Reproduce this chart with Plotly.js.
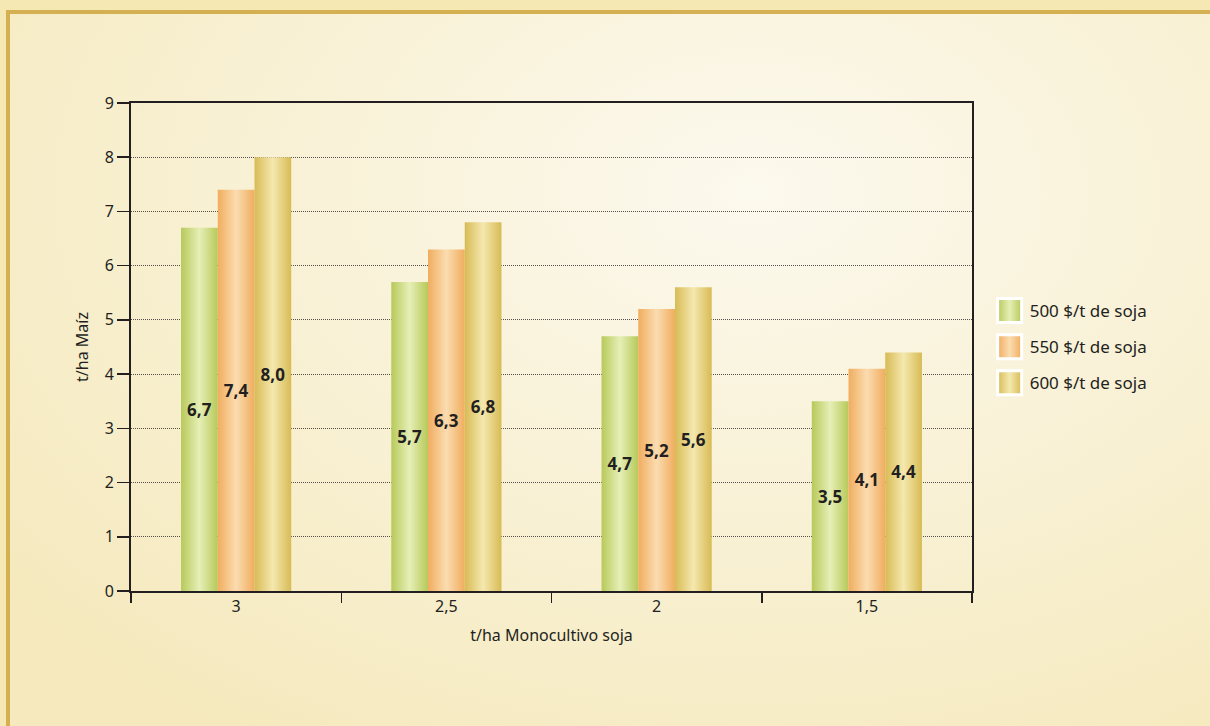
<!DOCTYPE html>
<html>
<head>
<meta charset="utf-8">
<script src="https://cdn.plot.ly/plotly-3.0.1.min.js"></script>
<style>
  html, body { margin:0; padding:0; }
  body { width:1210px; height:726px; overflow:hidden; background:#f5e8b3; position:relative; }
  #frame { position:absolute; left:6px; top:10px; right:0; bottom:0;
    border-top:4px solid #d5b052; border-left:4px solid #d5b052;
    background: radial-gradient(ellipse 80% 90% at 62% 25%, #fcf9ee 0%, #f9f2d8 45%, #f5e9bd 100%); }
  #chart { position:absolute; left:0; top:0; width:1210px; height:726px; }
</style>
</head>
<body>
<div id="frame"></div>
<div id="chart"></div>
<script>
// ---- data ----
const categories = ['3', '2,5', '2', '1,5'];
const seriesNames = ['500 $/t de soja', '550 $/t de soja', '600 $/t de soja'];
const values500 = [6.7, 5.7, 4.7, 3.5];
const values550 = [7.4, 6.3, 5.2, 4.1];
const values600 = [8.0, 6.8, 5.6, 4.4];
const yTicks = [0, 1, 2, 3, 4, 5, 6, 7, 8, 9];
const xTitle = 't/ha Monocultivo soja';
const yTitle = 't/ha Maíz';

// ---- styles ----
const gradients = [
  { id: 'g500', edge: '#b7c95a', mid: '#e6efb6' },
  { id: 'g550', edge: '#f0ad5f', mid: '#fbdcb0' },
  { id: 'g600', edge: '#d8bb55', mid: '#f4e8ae' }
];
const FONT = 'Noto Sans, DejaVu Sans, sans-serif';
const INK = '#231f20';

const seriesValues = [values500, values550, values600];
const traces = seriesValues.map((vals, i) => ({
  type: 'bar',
  name: seriesNames[i],
  legendgroup: 'g' + i,
  x: categories,
  y: vals,
  texttemplate: '%{y:.1f}',
  textposition: 'inside',
  insidetextanchor: 'middle',
  textangle: 0,
  constraintext: 'none',
  textfont: { family: FONT, size: 17, color: INK, weight: 'bold' },
  marker: { color: gradients[i].edge, line: { width: 0 } },
  hoverinfo: 'skip'
}));

const layout = {
  width: 1210, height: 726,
  margin: { l: 131, r: 238, t: 103, b: 135 },
  paper_bgcolor: 'rgba(0,0,0,0)',
  plot_bgcolor: 'rgba(0,0,0,0)',
  separators: ',.',
  barmode: 'group',
  bargap: 0.476,
  bargroupgap: 0,
  font: { family: FONT, size: 16, color: INK },
  showlegend: true,
  legend: {
    x: 1.021, xanchor: 'left', y: 0.5, yanchor: 'middle',
    bgcolor: 'rgba(0,0,0,0)', borderwidth: 0,
    tracegroupgap: 11, traceorder: 'grouped',
    font: { family: FONT, size: 17, color: INK }
  },
  xaxis: {
    type: 'category',
    tickson: 'boundaries',
    ticks: 'outside', ticklen: 10, tickwidth: 1.5, tickcolor: INK,
    showline: true, linecolor: INK, linewidth: 2, mirror: true,
    showgrid: false, zeroline: false,
    tickfont: { family: FONT, size: 16, color: INK },
    title: { text: xTitle, standoff: 14, font: { family: FONT, size: 16, color: INK } }
  },
  yaxis: {
    range: [0, 9],
    tickvals: yTicks,
    ticks: 'outside', ticklen: 12, tickwidth: 1.5, tickcolor: INK,
    showline: true, linecolor: INK, linewidth: 2, mirror: true,
    showgrid: true, gridcolor: '#55504b', gridwidth: 1, griddash: '1px,1px',
    zeroline: false,
    tickfont: { family: FONT, size: 16, color: INK },
    title: { text: yTitle, standoff: 12, font: { family: FONT, size: 16, color: INK } }
  }
};

Plotly.newPlot('chart', traces, layout, { staticPlot: true, displayModeBar: false }).then(() => {
  const NS = 'http://www.w3.org/2000/svg';
  const svg = document.querySelector('#chart .main-svg');
  let defs = svg.querySelector('defs');
  if (!defs) { defs = document.createElementNS(NS, 'defs'); svg.insertBefore(defs, svg.firstChild); }
  gradients.forEach(g => {
    const lg = document.createElementNS(NS, 'linearGradient');
    lg.setAttribute('id', g.id);
    lg.setAttribute('x1', '0'); lg.setAttribute('y1', '0');
    lg.setAttribute('x2', '1'); lg.setAttribute('y2', '0');
    [[0, g.edge], [0.5, g.mid], [1, g.edge]].forEach(([o, c]) => {
      const s = document.createElementNS(NS, 'stop');
      s.setAttribute('offset', o); s.setAttribute('stop-color', c);
      lg.appendChild(s);
    });
    defs.appendChild(lg);
  });
  document.querySelectorAll('#chart .barlayer .trace').forEach((tr, i) => {
    tr.querySelectorAll('.point path').forEach(p => { p.style.fill = 'url(#' + gradients[i].id + ')'; });
  });
  document.querySelectorAll('#chart .legend .traces').forEach((tr, i) => {
    tr.querySelectorAll('.legendpoints path').forEach(p => {
      p.setAttribute('d', 'M-12,-12h24v24h-24z');
      p.style.fill = 'url(#' + gradients[i].id + ')';
      p.style.stroke = '#ffffff';
      p.style.strokeWidth = '3px';
      p.style.strokeOpacity = '1';
    });
  });
});
</script>
</body>
</html>
